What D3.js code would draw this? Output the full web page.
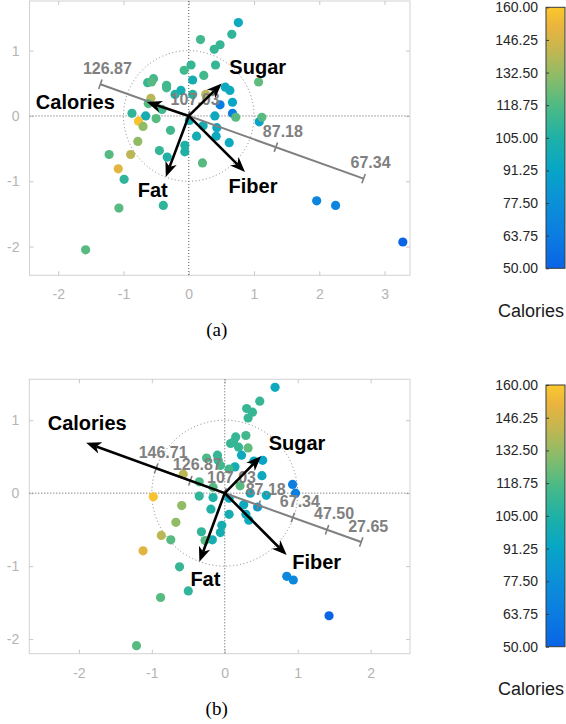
<!DOCTYPE html>
<html><head><meta charset="utf-8">
<script src="https://cdn.jsdelivr.net/npm/d3@7"></script>
<style>body{margin:0;background:#fff}svg{display:block}</style>
</head><body>
<svg id="c" width="566" height="724"></svg>
<script>
// ---------- DATA ----------
const varNames = ["Calories", "Sugar", "Fat", "Fiber"];
const loadingsA = [[-0.643, 0.214], [0.505, 0.496], [-0.352, -0.934], [0.862, -0.857]];
const loadingsB = [[-1.90, 0.689], [0.497, 0.507], [-0.348, -0.941], [0.849, -0.849]];

// [pc1, pc2, calories]
const pointsA = [
  [0.76,1.43,95],[0.66,1.25,110],[0.18,1.17,115],[0.48,1.09,112],[0.39,1.02,112],
  [0.035,0.78,112],[-0.07,0.70,115],[0.41,0.78,112],[0.23,0.62,115],[0.06,0.55,100],
  [1.07,0.52,122],[-0.54,0.57,115],[-0.63,0.51,112],[-0.57,0.52,120],[-0.34,0.47,115],
  [-0.34,0.43,115],[-0.12,0.39,100],[-0.21,0.33,105],[0.06,0.33,108],[0.26,0.33,140],
  [0.56,0.44,95],[0.63,0.39,95],[0.48,0.17,66],[0.67,0.21,92],[0.67,0.04,66],
  [0.72,-0.02,120],[0.40,0.0,95],[0.43,-0.18,95],[0.42,-0.31,95],[0.22,-0.15,100],
  [0.12,-0.31,100],[0.62,-0.41,95],[1.08,-0.09,90],[1.12,-0.02,120],[-0.58,0.27,140],
  [-0.62,0.19,120],[-0.41,0.10,115],[-0.87,0.04,110],[-0.66,0.0,100],[-0.50,-0.04,120],
  [-0.77,-0.08,158],[-0.70,-0.16,132],[-0.28,-0.22,115],[0.01,-0.07,100],[-0.78,-0.39,132],
  [-0.06,-0.45,105],[-0.06,-0.55,105],[-0.45,-0.53,112],[-0.33,-0.63,105],[-1.22,-0.59,120],
  [-0.89,-0.59,140],[-1.08,-0.81,150],[-0.99,-0.97,110],[0.21,-0.72,120],[-1.07,-1.41,120],
  [-0.39,-1.37,110],[-1.58,-2.05,120],[1.96,-1.30,70],[2.25,-1.37,70],[3.28,-1.93,50]
];
const pointsB = [
  [0.69,1.45,95],[0.48,1.26,112],[0.30,1.16,112],[0.38,1.11,112],[0.32,1.03,112],
  [0.15,0.77,112],[0.12,0.70,112],[0.29,0.79,115],[0.08,0.68,112],[0.19,0.63,112],
  [0.32,0.62,122],[0.23,0.52,95],[0.52,0.45,92],[0.40,0.44,95],[0.51,0.24,95],
  [0.14,0.36,100],[0.06,0.33,115],[-0.10,0.52,112],[-0.09,0.45,112],[-0.06,0.38,115],
  [-0.25,0.48,118],[-0.35,0.155,118],[-0.57,0.26,140],[-0.35,-0.04,110],[-0.16,-0.06,105],
  [-0.16,0.08,120],[0.21,0.10,120],[0.06,-0.07,95],[0.35,0.0,95],[0.57,-0.03,95],
  [0.93,0.12,65],[0.97,0.0,65],[0.45,-0.19,85],[0.26,-0.16,95],[0.29,-0.29,95],
  [0.33,-0.37,95],[0.06,-0.29,100],[-0.19,-0.22,105],[-0.04,-0.44,100],[-0.06,-0.54,100],
  [-0.32,-0.53,110],[-0.17,-0.64,100],[-0.27,-0.65,120],[-0.98,-0.05,158],[-0.59,-0.17,132],
  [-0.67,-0.40,132],[-0.87,-0.58,140],[-0.74,-0.64,120],[-1.12,-0.79,150],[-0.62,-1.01,112],
  [-0.88,-1.43,120],[-0.50,-1.34,110],[-1.21,-2.09,120],[0.85,-1.14,72],[0.94,-1.19,72],
  [1.43,-1.68,50]
];

const calTicksA = [126.87, 107.03, 87.18, 67.34];
const calTicksB = [146.71, 126.87, 107.03, 87.18, 67.34, 47.50, 27.65];
const calMean = 106.88;
const calDir = [-0.941, 0.337];      // direction of increasing calories
const calUnitA = 0.072;               // biplot units per calorie
const calUnitB = 0.0251;

const xTicksA = [-2, -1, 0, 1, 2, 3];
const xTicksB = [-2, -1, 0, 1, 2];
const yTicks = [-2, -1, 0, 1];
const cbTicks = [50, 63.75, 77.5, 91.25, 105, 118.75, 132.5, 146.25, 160];
const cbStopVals = [50, 65, 80, 92, 105, 118, 130, 142, 152, 160];
const cbStopCols = ["#0a64e6", "#0b7ee0", "#0b93d6", "#07a6c6", "#1fb1a6", "#4cba86", "#88bc6a", "#c4b650", "#eab43e", "#fcc82c"];

// ---------- DRAW ----------
const svg = d3.select("#c");
const color = d3.scaleLinear().domain(cbStopVals).range(cbStopCols).interpolate(d3.interpolateRgb).clamp(true);
const FONT = "'Liberation Sans', Arial, Helvetica, sans-serif";

const defs = svg.append("defs");
const grad = defs.append("linearGradient").attr("id", "cbg").attr("x1", 0).attr("y1", 1).attr("x2", 0).attr("y2", 0);
cbStopVals.forEach((v, i) => grad.append("stop").attr("offset", (v - 50) / 110).attr("stop-color", cbStopCols[i]));

const panels = [
  { box: [29.5, 410, 1, 275.3], xd: [-2.44, 3.39], yd: [-2.44, 1.76], pts: pointsA, load: loadingsA,
    xt: xTicksA, calT: calTicksA, calU: calUnitA, letter: "(a)", letterY: 329,
    lab: [[-32, 0, "end"], [36, -17, "middle"], [-13, 13, "middle"], [8, 14, "middle"]],
    cb: [546, 565, 7.3, 268.3], cbLabY: 311 },
  { box: [29.3, 410, 379.3, 653.7], xd: [-2.68, 2.54], yd: [-2.2, 1.56], pts: pointsB, load: loadingsB,
    xt: xTicksB, calT: calTicksB, calU: calUnitB, letter: "(b)", letterY: 708,
    lab: [[1, -20, "middle"], [36, -13, "middle"], [6, 17, "middle"], [30, 7, "middle"]],
    cb: [546, 565, 385, 646.7], cbLabY: 689 }
];

panels.forEach((p, pi) => {
  const [bx0, bx1, by0, by1] = p.box;
  const x = d3.scaleLinear().domain(p.xd).range([bx0, bx1]);
  const y = d3.scaleLinear().domain(p.yd).range([by1, by0]);
  const g = svg.append("g");
  const cid = "clip" + pi;
  defs.append("clipPath").attr("id", cid).append("rect")
    .attr("x", bx0).attr("y", by0).attr("width", bx1 - bx0).attr("height", by1 - by0);

  // box
  g.append("rect").attr("x", bx0).attr("y", by0).attr("width", bx1 - bx0).attr("height", by1 - by0)
    .attr("fill", "none").attr("stroke", "#d2d2d2").attr("stroke-width", 1);

  // axes with inward ticks
  const axB = d3.axisBottom(x).tickValues(p.xt).tickSize(-4).tickPadding(14).tickFormat(d3.format("d"));
  const axT = d3.axisTop(x).tickValues(p.xt).tickSize(-4).tickFormat("");
  const axL = d3.axisLeft(y).tickValues(yTicks).tickSize(-4).tickPadding(10).tickFormat(d3.format("d"));
  const axR = d3.axisRight(y).tickValues(yTicks).tickSize(-4).tickFormat("");
  const styleAx = sel => {
    sel.select(".domain").remove();
    sel.selectAll(".tick line").attr("stroke", "#c8c8c8");
    sel.selectAll("text").attr("fill", "#b4b4b4").style("font-family", FONT).style("font-size", "14px");
  };
  g.append("g").attr("transform", `translate(0,${by1})`).call(axB).call(styleAx);
  g.append("g").attr("transform", `translate(0,${by0})`).call(axT).call(styleAx);
  g.append("g").attr("transform", `translate(${bx0},0)`).call(axL).call(styleAx);
  g.append("g").attr("transform", `translate(${bx1},0)`).call(axR).call(styleAx);
  g.selectAll("text").text(function () { return d3.select(this).text().replace("−", "-"); });

  const inner = g.append("g").attr("clip-path", `url(#${cid})`);
  // zero lines
  inner.append("line").attr("x1", x(0)).attr("x2", x(0)).attr("y1", by0).attr("y2", by1)
    .attr("stroke", "#444").attr("stroke-width", 0.9).attr("stroke-dasharray", "1,2");
  inner.append("line").attr("x1", bx0).attr("x2", bx1).attr("y1", y(0)).attr("y2", y(0))
    .attr("stroke", "#444").attr("stroke-width", 0.9).attr("stroke-dasharray", "1,2");
  // unit circle
  inner.append("ellipse").attr("cx", x(0)).attr("cy", y(0))
    .attr("rx", x(1) - x(0)).attr("ry", y(0) - y(1))
    .attr("fill", "none").attr("stroke", "#777").attr("stroke-width", 0.9).attr("stroke-dasharray", "1,2.5");

  // points
  inner.selectAll("circle.pt").data(p.pts).join("circle").attr("class", "pt")
    .attr("cx", d => x(d[0])).attr("cy", d => y(d[1])).attr("r", 4.6)
    .attr("fill", d => color(d[2]));

  // calibrated calories axis
  const calPos = v => { const s = (v - calMean) * p.calU; return [x(s * calDir[0]), y(s * calDir[1])]; };
  const a0 = calPos(p.calT[0]), a1 = calPos(p.calT[p.calT.length - 1]);
  g.append("line").attr("x1", a0[0]).attr("y1", a0[1]).attr("x2", a1[0]).attr("y2", a1[1])
    .attr("stroke", "#808080").attr("stroke-width", 2);
  const ux = a1[0] - a0[0], uy = a1[1] - a0[1], ul = Math.hypot(ux, uy);
  const nx = -uy / ul, ny = ux / ul;
  p.calT.forEach(v => {
    const [cx, cy] = calPos(v);
    g.append("line").attr("x1", cx - nx * 5).attr("y1", cy - ny * 5).attr("x2", cx + nx * 5).attr("y2", cy + ny * 5)
      .attr("stroke", "#808080").attr("stroke-width", 1.6);
    g.append("text").attr("x", cx + 7).attr("y", cy - 16).attr("dy", "0.35em").attr("text-anchor", "middle")
      .attr("fill", "#808080").style("font-family", FONT).style("font-size", "16px").style("font-weight", "bold")
      .text(v.toFixed(2));
  });

  // arrows
  const ox = x(0), oy = y(0);
  p.load.forEach((l, i) => {
    const tx = x(l[0]), ty = y(l[1]);
    const dx = tx - ox, dy = ty - oy, len = Math.hypot(dx, dy);
    const u = [dx / len, dy / len], n = [-u[1], u[0]];
    const L = 15, W = 6;
    const bxp = tx - L * 0.72 * u[0], byp = ty - L * 0.72 * u[1];
    g.append("line").attr("x1", ox).attr("y1", oy).attr("x2", bxp).attr("y2", byp)
      .attr("stroke", "#000").attr("stroke-width", 2.6);
    g.append("path").attr("d", `M${tx},${ty}L${tx - L * u[0] + W * n[0]},${ty - L * u[1] + W * n[1]}L${bxp},${byp}L${tx - L * u[0] - W * n[0]},${ty - L * u[1] - W * n[1]}Z`)
      .attr("fill", "#000");
    const lb = p.lab[i];
    g.append("text").attr("x", tx + lb[0]).attr("y", ty + lb[1]).attr("dy", "0.35em").attr("text-anchor", lb[2])
      .attr("fill", "#000").style("font-family", FONT).style("font-size", "20px").style("font-weight", "bold")
      .text(varNames[i]);
  });

  // panel letter
  svg.append("text").attr("x", 216.7).attr("y", p.letterY).attr("dy", "0.35em").attr("text-anchor", "middle")
    .style("font-family", "'Liberation Serif', 'Times New Roman', serif").style("font-size", "19px").text(p.letter);

  // colorbar
  const [cx0, cx1, cy0, cy1] = p.cb;
  const cs = d3.scaleLinear().domain([50, 160]).range([cy1, cy0]);
  svg.append("rect").attr("x", cx0).attr("y", cy0).attr("width", cx1 - cx0).attr("height", cy1 - cy0)
    .attr("fill", "url(#cbg)").attr("stroke", "#3a3a3a").attr("stroke-width", 1);
  const cbAx = d3.axisLeft(cs).tickValues(cbTicks).tickSize(-3).tickPadding(8).tickFormat(d3.format(".2f"));
  const cg = svg.append("g").attr("transform", `translate(${cx0},0)`).call(cbAx);
  cg.select(".domain").remove();
  cg.selectAll(".tick line").attr("stroke", "#3a3a3a");
  cg.selectAll("text").attr("fill", "#262626").style("font-family", FONT).style("font-size", "14px");
  svg.append("text").attr("x", 531).attr("y", p.cbLabY).attr("dy", "0.35em").attr("text-anchor", "middle")
    .attr("fill", "#1a1a1a").style("font-family", FONT).style("font-size", "18px").text("Calories");
});
</script>
</body></html>
